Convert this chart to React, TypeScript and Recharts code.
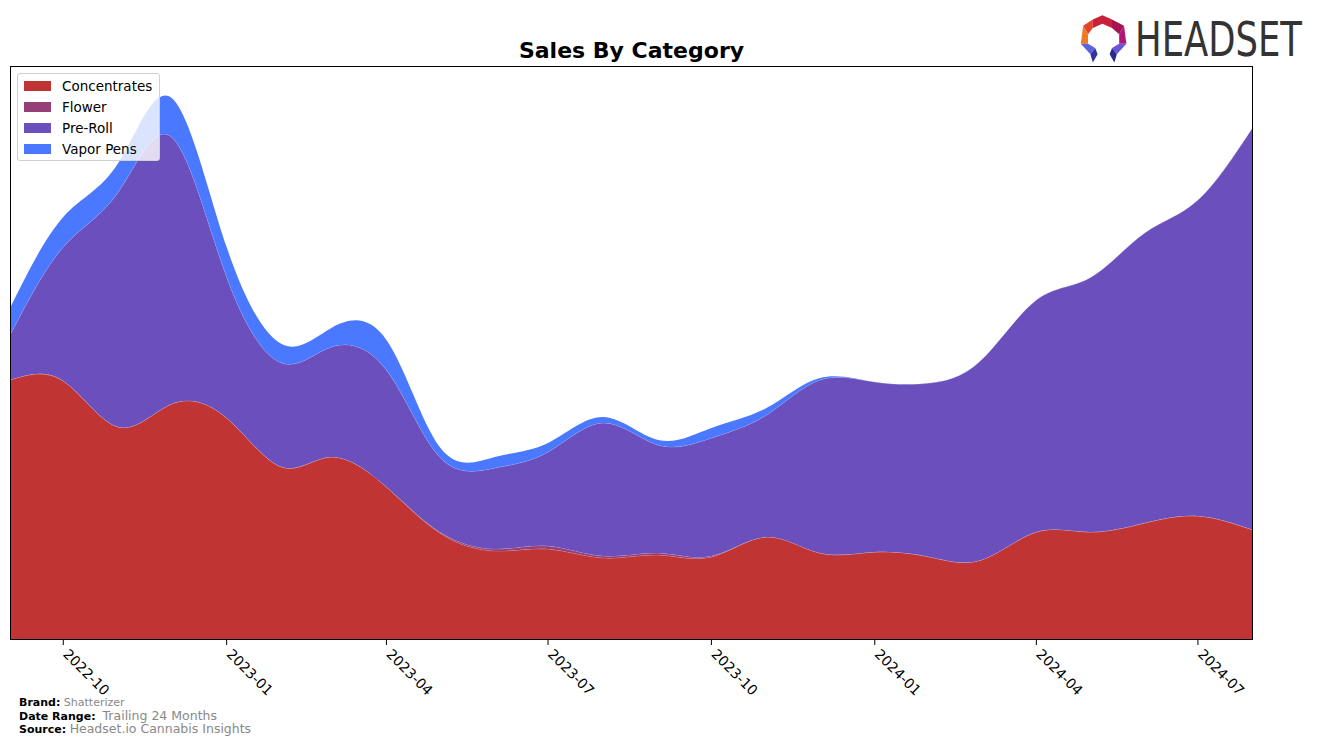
import React from 'react';
import { AreaChart, Area, XAxis, YAxis } from 'recharts';

// monthly sales by category (relative units)
const months = [
  '2022-09', '2022-10', '2022-11', '2022-12', '2023-01', '2023-02', '2023-03', '2023-04',
  '2023-05', '2023-06', '2023-07', '2023-08', '2023-09', '2023-10', '2023-11', '2023-12',
  '2024-01', '2024-02', '2024-03', '2024-04', '2024-05', '2024-06', '2024-07', '2024-08',
];
const concentrates = [260, 259, 213, 236, 222, 173, 183, 153, 107, 89, 91, 82, 85, 83, 103, 87, 88, 83, 80, 108, 108, 117, 124, 110];
const flower = [0, 0, 0, 0, 0, 0, 0, 0, 1, 2, 3, 2, 2, 1, 0, 0, 0, 0, 0, 0, 0, 0, 0, 0];
const preRoll = [45, 134, 235, 267, 141, 104, 110, 117, 75, 81, 94, 133, 108, 118, 122, 173, 170, 174, 200, 232, 254, 290, 316, 403];
const vaporPens = [27, 30, 29, 39, 30, 19, 19, 30, 10, 11, 9, 6, 5, 10, 7, 2, 0, 0, 0, 0, 0, 0, 0, 0];
const tickMonths = ['2022-10', '2023-01', '2023-04', '2023-07', '2023-10', '2024-01', '2024-04', '2024-07'];

const COLORS = {
  concentrates: '#c03434',
  flower: '#953f76',
  preRoll: '#6a4fbd',
  vaporPens: '#4a78fe',
};

const toTime = (m: string) => {
  const [y, mo] = m.split('-').map(Number);
  return Date.UTC(y, mo - 1, 1);
};

const data = months.map((m, i) => ({
  t: toTime(m),
  concentrates: concentrates[i],
  flower: flower[i],
  preRoll: preRoll[i],
  vaporPens: vaporPens[i],
}));

const ticks = tickMonths.map(toTime);

const fmt = (t: number) => {
  const d = new Date(t);
  return `${d.getUTCFullYear()}-${String(d.getUTCMonth() + 1).padStart(2, '0')}`;
};

const AngledTick = ({ x, y, payload }: any) => (
  <g transform={`translate(${x},${y})`}>
    <text x={-1} y={8} transform="rotate(45 -1 8)" textAnchor="start" fontSize={14} fontFamily="DejaVu Sans" fill="#000">
      {fmt(payload.value)}
    </text>
  </g>
);

const legendItems = [
  { name: 'Concentrates', color: COLORS.concentrates },
  { name: 'Flower', color: COLORS.flower },
  { name: 'Pre-Roll', color: COLORS.preRoll },
  { name: 'Vapor Pens', color: COLORS.vaporPens },
];

const font = 'DejaVu Sans, sans-serif';

const Logo = () => (
  <svg width={240} height={60} style={{ position: 'absolute', left: 1075, top: 8 }}>
    {/* hexagon ring mark */}
    <g transform="translate(1,0) scale(1.2,1.05)">
      <polygon points="22,7 30,11 30,19 22,15 14,19 14,11" fill="#c8203a" />
      <polygon points="30,11 40,17 36,25 30,19" fill="#a41550" />
      <polygon points="14,11 6,17 10,25 14,19" fill="#e0442a" />
      <polygon points="40,17 42,34 36,34 36,25" fill="#b0157a" />
      <polygon points="6,17 4,34 10,34 10,25" fill="#f07a22" />
      <polygon points="42,34 34,44 30,38 36,34" fill="#6a54d8" />
      <polygon points="4,34 12,44 16,38 10,34" fill="#5a62e0" />
      <polygon points="34,44 32,52 28,44 30,38" fill="#2a2a8a" />
      <polygon points="12,44 14,52 18,44 16,38" fill="#33339a" />
    </g>
    <g transform="translate(60,48) scale(0.82,1)">
      <text x={0} y={0} fontSize={48} fontFamily="DejaVu Sans Condensed, DejaVu Sans" fill="#333">HEADSET</text>
    </g>
  </svg>
);

export default function App() {
  return (
    <div style={{ position: 'absolute', left: 0, top: 0, width: 1317, height: 745, background: '#fff', fontFamily: font }}>
      <div style={{ position: 'absolute', left: 0, width: 1263, top: 38, textAlign: 'center', fontSize: 22, fontWeight: 'bold' }}>
        Sales By Category
      </div>
      <Logo />
      <AreaChart width={1317} height={745} data={data} margin={{ top: 66, right: 64, left: 10, bottom: 45 }}>
        <XAxis
          dataKey="t"
          type="number"
          scale="time"
          domain={[toTime('2022-09'), toTime('2024-08')]}
          ticks={ticks}
          tick={<AngledTick />}
          tickLine={{ stroke: '#000' }}
          tickSize={5}
          axisLine={false}
          height={60}
          interval={0}
          allowDataOverflow
        />
        <YAxis hide domain={[0, 574]} allowDataOverflow />
        <Area type="natural" dataKey="concentrates" name="Concentrates" stackId="1" fill={COLORS.concentrates} fillOpacity={1}
          stroke="#ffffff" strokeOpacity={0.25} strokeWidth={1} dot={false} activeDot={false} isAnimationActive={false} />
        <Area type="natural" dataKey="flower" name="Flower" stackId="1" fill={COLORS.flower} fillOpacity={1}
          stroke="#ffffff" strokeOpacity={0.25} strokeWidth={1} dot={false} activeDot={false} isAnimationActive={false} />
        <Area type="natural" dataKey="preRoll" name="Pre-Roll" stackId="1" fill={COLORS.preRoll} fillOpacity={1}
          stroke="#ffffff" strokeOpacity={0.25} strokeWidth={1} dot={false} activeDot={false} isAnimationActive={false} />
        <Area type="natural" dataKey="vaporPens" name="Vapor Pens" stackId="1" fill={COLORS.vaporPens} fillOpacity={1}
          stroke="none" dot={false} activeDot={false} isAnimationActive={false} />
      </AreaChart>
      {/* plot frame */}
      <div style={{ position: 'absolute', left: 10, top: 66, width: 1243, height: 574, border: '1px solid #000', boxSizing: 'border-box', pointerEvents: 'none' }} />
      {/* legend */}
      <div style={{
        position: 'absolute', left: 17, top: 73, width: 143, height: 88, boxSizing: 'border-box',
        background: 'rgba(255,255,255,0.8)', border: '1px solid #d0d0d0', borderRadius: 3, padding: '1px 0 0 6px',
      }}>
        {legendItems.map((it) => (
          <div key={it.name} style={{ display: 'flex', alignItems: 'center', height: 21, fontSize: 13.5 }}>
            <span style={{ width: 27, height: 10, background: it.color, display: 'inline-block', marginRight: 11 }} />
            <span>{it.name}</span>
          </div>
        ))}
      </div>
      {/* footer */}
      <div style={{ position: 'absolute', left: 19, top: 697, fontSize: 11, lineHeight: '12.5px' }}>
        <div><b>Brand:</b> <span style={{ color: '#888' }}>Shatterizer</span></div>
        <div><b>Date Range:</b>&nbsp; <span style={{ color: '#888', fontSize: 12.5 }}>Trailing 24 Months</span></div>
        <div><b>Source:</b> <span style={{ color: '#888', fontSize: 12.5 }}>Headset.io Cannabis Insights</span></div>
      </div>
    </div>
  );
}
